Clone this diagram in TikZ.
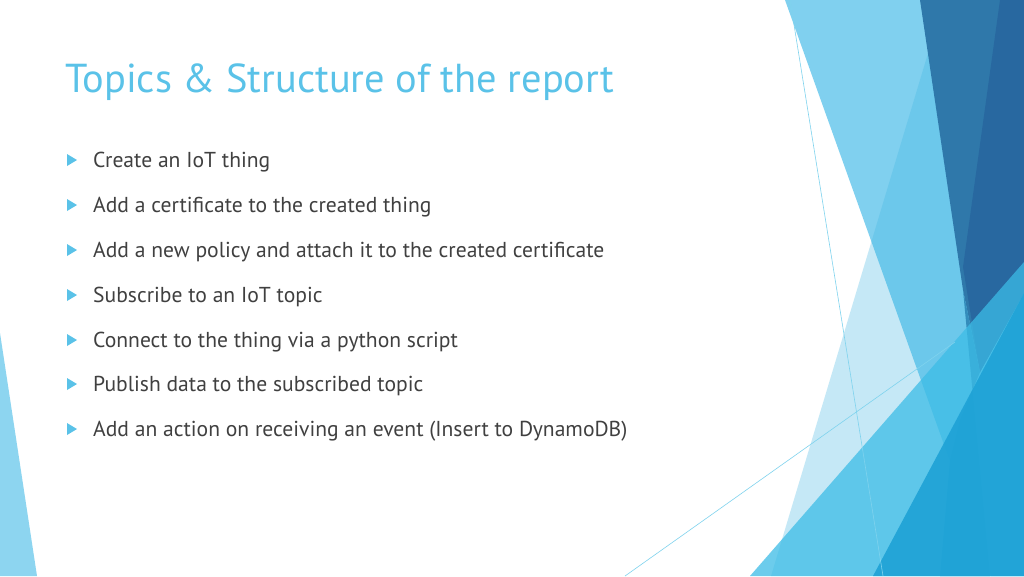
\documentclass[tikz,border=0pt]{standalone}
\usepackage{fontspec}
\setmainfont{PT Sans}
\definecolor{ttl}{HTML}{5AC2E8}
\definecolor{txt}{HTML}{404040}
\definecolor{lA}{HTML}{80D0EF}
\definecolor{ov}{HTML}{41B6E2}
\definecolor{dk1}{HTML}{2F78AA}
\definecolor{dk2}{HTML}{2868A0}
\definecolor{cy}{HTML}{3CBCE6}
\definecolor{bl}{HTML}{1EA2D6}
\definecolor{ln}{HTML}{7FD3EE}
\definecolor{lt}{HTML}{8DD5F0}
\begin{document}
\begin{tikzpicture}[x=1pt,y=-1pt,
  item/.style={anchor=west,text=txt,font=\fontsize{21.6}{24}\selectfont,inner sep=0pt},
  bul/.style={fill=ttl}]
\useasboundingbox (0,0) rectangle (1024,576);
\fill[white] (0,0) rectangle (1024,576);
% left triangle
\fill[lt] (0,333) -- (37,576) -- (0,576) -- cycle;
% right facets
\fill[lA] (785,0) -- (1024,0) -- (1024,576) -- (991,576) -- cycle;
\fill[ov,opacity=0.3] (944,0) -- (1024,0) -- (1024,576) -- (771,576) -- cycle;
\fill[dk1] (920,0) -- (1000,0) -- (1024,293) -- (980,372) -- (963,290) -- cycle;
\fill[dk2] (1000,0) -- (1024,0) -- (1024,293) -- (980,372) -- (963,267) -- cycle;
\fill[dk1!70!cy] (963,290) -- (980,372) -- (960,420) -- (950,460) -- (940,576) -- (990,576) -- cycle;
\fill[cy,opacity=0.75] (750,576) -- (1024,262) -- (1024,576) -- cycle;
\fill[bl,opacity=0.9] (1024,293) -- (873,576) -- (1024,576) -- cycle;
% thin lines
\coordinate (t1a) at (790,0); \coordinate (t1b) at (883,576);
\coordinate (t2a) at (625,576); \coordinate (t2b) at (955,342);
\draw[ln,line width=0.6pt] (t1a) -- (t1b);
\draw[ln,line width=0.6pt] (t2a) -- (t2b);
% title
\node[anchor=west,text=ttl,font=\fontsize{40.4}{46}\selectfont,inner sep=0pt] (title) at (65,82) {Topics \& Structure of the report};
% bullets
\foreach \y/\t [count=\i] in {160/Create an IoT thing,
  205/Add a certificate to the created thing,
  250/Add a new policy and attach it to the created certificate,
  295/Subscribe to an IoT topic,
  340/Connect to the thing via a python script,
  384/Publish data to the subscribed topic,
  429/Add an action on receiving an event (Insert to DynamoDB)}{
  \node[item] (it\i) at (93,\y+2) {\t};
  \fill[bul] (67,\y-6) -- (77,\y) -- (67,\y+6) -- cycle;
}
\end{tikzpicture}
\end{document}
